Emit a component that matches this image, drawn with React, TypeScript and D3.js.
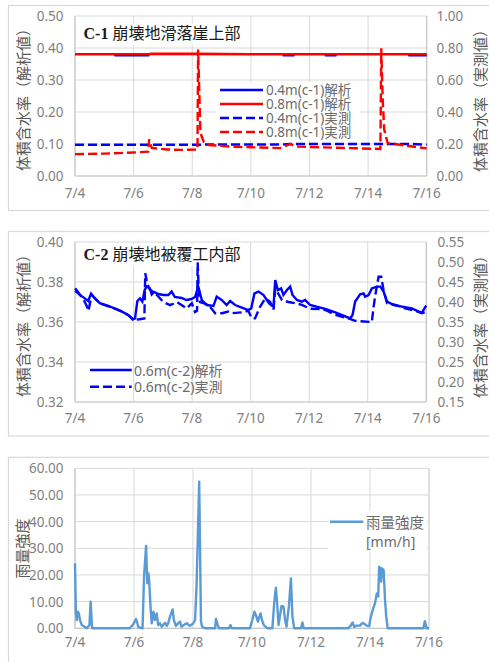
import React from "react";
import * as d3 from "d3";

// ---------- data ----------
const xTickDays = [4, 6, 8, 10, 12, 14, 16];
const xTickLabels = ["7/4", "7/6", "7/8", "7/10", "7/12", "7/14", "7/16"];

const c1LeftTicks = [0, 0.1, 0.2, 0.3, 0.4, 0.5];
const c1RightTicks = [0, 0.2, 0.4, 0.6, 0.8, 1.0];
const c2LeftTicks = [0.32, 0.34, 0.36, 0.38, 0.4];
const c2RightTicks = [0.15, 0.2, 0.25, 0.3, 0.35, 0.4, 0.45, 0.5, 0.55];
const rainTicks = [0, 10, 20, 30, 40, 50, 60];

const c1Legend = ["0.4m(c-1)解析", "0.8m(c-1)解析", "0.4m(c-1)実測", "0.8m(c-1)実測"];
const c2Legend = ["0.6m(c-2)解析", "0.6m(c-2)実測"];

// C-1 analysis (left axis)
const c1Ana04: [number, number][] = [
  [4, 0.381], [5.37, 0.381], [5.38, 0.377], [6.5, 0.377], [6.51, 0.381], [11.1, 0.381],
  [11.12, 0.377], [11.46, 0.377], [11.48, 0.381], [12.55, 0.381], [12.56, 0.377],
  [12.89, 0.377], [12.9, 0.381], [15.4, 0.381], [15.41, 0.377], [16, 0.377],
];
const c1Ana08: [number, number][] = [
  [4, 0.381], [6.5, 0.381], [6.6, 0.382], [8.2, 0.382], [10, 0.381], [16, 0.381],
];
// C-1 observed (right axis)
const c1Obs04: [number, number][] = [
  [4, 0.195], [6, 0.195], [8.2, 0.195], [8.5, 0.197], [11, 0.197], [11.35, 0.2],
  [14, 0.2], [15.5, 0.2], [16, 0.196],
];
const c1Obs08: [number, number][] = [
  [4.0, 0.137], [5.0, 0.14], [6.0, 0.147], [6.5, 0.152], [6.53, 0.229], [6.62, 0.175],
  [7.13, 0.166], [7.6, 0.163], [8.18, 0.165], [8.2, 0.79], [8.25, 0.47], [8.28, 0.27],
  [8.39, 0.214], [8.56, 0.194], [9.4, 0.183], [10.0, 0.18], [11.0, 0.174], [11.35, 0.2],
  [11.53, 0.184], [12.5, 0.179], [13.6, 0.173], [14.42, 0.169], [14.45, 0.798],
  [14.5, 0.475], [14.55, 0.29], [14.67, 0.205], [14.9, 0.2], [15.57, 0.183], [16.0, 0.173],
];

// C-2 analysis (left axis)
const c2Ana06: [number, number][] = [
  [4.0, 0.3768], [4.08, 0.3755], [4.17, 0.3735], [4.3, 0.3722], [4.45, 0.3705], [4.55, 0.3742],
  [4.68, 0.3718], [4.85, 0.3694], [5.2, 0.3677], [5.54, 0.3657], [5.82, 0.3635], [5.97, 0.3612],
  [6.05, 0.3618], [6.13, 0.3705], [6.22, 0.3718], [6.3, 0.3702], [6.38, 0.376], [6.45, 0.3778],
  [6.55, 0.377], [6.62, 0.3738], [6.7, 0.375], [6.85, 0.374], [7.02, 0.3735], [7.19, 0.3735],
  [7.3, 0.3752], [7.41, 0.3725], [7.64, 0.372], [7.81, 0.371], [7.98, 0.3715], [8.1, 0.3725],
  [8.21, 0.3777], [8.33, 0.371], [8.5, 0.3685], [8.73, 0.368], [8.84, 0.3727], [9.01, 0.371],
  [9.18, 0.3685], [9.3, 0.3705], [9.47, 0.3685], [9.7, 0.3672], [9.92, 0.366], [10.02, 0.3668],
  [10.13, 0.3743], [10.27, 0.3752], [10.44, 0.3735], [10.63, 0.3693], [10.78, 0.3677],
  [10.84, 0.381], [10.93, 0.376], [11.04, 0.3768], [11.12, 0.3735], [11.24, 0.376],
  [11.35, 0.3777], [11.43, 0.3735], [11.58, 0.371], [11.75, 0.3702], [11.86, 0.371],
  [12.03, 0.3685], [12.38, 0.3672], [12.55, 0.3666], [12.89, 0.3648], [13.17, 0.3632],
  [13.4, 0.3618], [13.48, 0.3635], [13.57, 0.3702], [13.74, 0.3738], [13.86, 0.3743],
  [13.91, 0.3727], [14.03, 0.3735], [14.14, 0.3768], [14.31, 0.3777], [14.43, 0.3777],
  [14.54, 0.3752], [14.66, 0.3702], [14.89, 0.3685], [15.17, 0.3677], [15.51, 0.3668],
  [15.74, 0.3652], [15.86, 0.3648], [15.97, 0.3677], [16.0, 0.3682],
];
// C-2 observed (right axis)
const c2Obs06: [number, number][] = [
  [4.0, 0.428], [4.17, 0.418], [4.3, 0.405], [4.4, 0.39], [4.46, 0.378], [4.52, 0.4],
  [4.6, 0.415], [4.7, 0.408], [4.85, 0.397], [5.2, 0.388], [5.54, 0.378], [5.82, 0.367],
  [5.97, 0.358], [6.05, 0.356], [6.2, 0.357], [6.37, 0.359], [6.4, 0.472], [6.47, 0.445],
  [6.55, 0.432], [6.79, 0.418], [7.02, 0.4], [7.25, 0.392], [7.48, 0.4], [7.82, 0.384],
  [7.99, 0.397], [8.1, 0.375], [8.17, 0.378], [8.19, 0.499], [8.22, 0.443], [8.27, 0.4],
  [8.56, 0.393], [8.79, 0.372], [9.02, 0.372], [9.24, 0.376], [9.36, 0.372], [9.7, 0.374],
  [9.92, 0.378], [10.04, 0.359], [10.15, 0.359], [10.32, 0.388], [10.5, 0.409], [10.67, 0.4],
  [10.78, 0.38], [10.84, 0.434], [11.07, 0.405], [11.29, 0.4], [11.52, 0.397], [11.75, 0.393],
  [12.03, 0.383], [12.38, 0.382], [12.55, 0.38], [12.89, 0.368], [13.34, 0.359], [13.57, 0.353],
  [14.14, 0.35], [14.2, 0.388], [14.26, 0.418], [14.37, 0.463], [14.46, 0.463], [14.54, 0.43],
  [14.66, 0.397], [14.94, 0.393], [15.28, 0.384], [15.62, 0.378], [15.85, 0.372], [16.0, 0.375],
];

// Rainfall intensity [mm/h]
const rain: [number, number][] = [
  [4.0, 24.4], [4.03, 5.6], [4.06, 3.1], [4.1, 6.2], [4.13, 5.6], [4.17, 3.1], [4.23, 1.2],
  [4.4, 0], [4.49, 1.2], [4.53, 10.0], [4.58, 0], [5.86, 0], [5.98, 1.6], [6.07, 3.5],
  [6.15, 0.4], [6.29, 0], [6.34, 19.4], [6.41, 30.9], [6.45, 16.9], [6.49, 20.6], [6.52, 16.9],
  [6.56, 8.1], [6.6, 1.9], [6.66, 6.2], [6.71, 3.1], [6.77, 5.6], [6.82, 1.2], [6.88, 1.9],
  [6.94, 0.6], [7.05, 2.1], [7.11, 0.9], [7.16, 1.9], [7.22, 4.4], [7.31, 7.1], [7.35, 3.1],
  [7.42, 0.9], [7.5, 1.9], [7.56, 2.5], [7.61, 0.6], [7.69, 1.2], [7.79, 1.9], [7.9, 0.9],
  [8.01, 1.9], [8.07, 3.1], [8.12, 15.6], [8.21, 55.0], [8.27, 2.5], [8.31, 0.6], [8.41, 0],
  [8.75, 0], [8.78, 3.5], [8.84, 1.2], [8.88, 0], [9.22, 0], [9.27, 1.2], [9.31, 0],
  [9.93, 0], [10.01, 3.1], [10.08, 6.2], [10.15, 4.4], [10.2, 2.5], [10.29, 5.6], [10.34, 3.1],
  [10.4, 1.2], [10.53, 0], [10.69, 0], [10.76, 10.6], [10.81, 15.2], [10.86, 8.1], [10.9, 1.2],
  [11.0, 8.4], [11.07, 8.1], [11.12, 3.1], [11.17, 0.6], [11.25, 8.1], [11.32, 18.7],
  [11.37, 4.4], [11.43, 0], [11.66, 0], [11.71, 2.2], [11.75, 0], [13.26, 0], [13.35, 1.0],
  [13.41, 2.2], [13.47, 0.5], [13.53, 1.0], [13.66, 1.0], [13.74, 2.0], [13.81, 1.7],
  [13.9, 0.9], [13.97, 0.8], [14.03, 4.4], [14.11, 7.5], [14.17, 9.4], [14.23, 13.1],
  [14.28, 11.9], [14.31, 23.1], [14.36, 22.5], [14.38, 17.5], [14.4, 22.5], [14.46, 21.9],
  [14.48, 17.5], [14.51, 10.6], [14.55, 4.4], [14.6, 0], [15.81, 0], [15.86, 2.7],
  [15.92, 0], [16.0, 0],
];

// ---------- style ----------
const LATIN = "'Noto Sans', 'Noto Sans CJK JP', sans-serif";
const CJK = "'Noto Sans CJK JP', 'Noto Sans', sans-serif";
const GRID = "#d9d9d9";
const AXIS = "#c8c8c8";
const TICK_COLOR = "#7f7f7f";
const TITLE_COLOR = "#595959";
const BLUE = "#0000ff";
const RED = "#ff0000";
const RAIN = "#5b9bd5";
const DASH = "9 4";
const LW = 2.4;

type Pt = [number, number];

function makeLine(x: d3.ScaleLinear<number, number>, y: d3.ScaleLinear<number, number>) {
  return d3
    .line<Pt>()
    .x((d) => x(d[0]))
    .y((d) => y(d[1]))
    .curve(d3.curveLinear);
}

function Grid({ x, y, yTicks }: { x: d3.ScaleLinear<number, number>; y: d3.ScaleLinear<number, number>; yTicks: number[] }) {
  const [x0, x1] = x.range();
  const [y0, y1] = y.range();
  return (
    <g>
      {yTicks.map((t, i) => (
        <line key={"h" + i} x1={x0} x2={x1} y1={y(t)} y2={y(t)} stroke={GRID} strokeWidth={1} />
      ))}
      {xTickDays.map((t, i) => (
        <line key={"v" + i} x1={x(t)} x2={x(t)} y1={y0} y2={y1} stroke={GRID} strokeWidth={1} />
      ))}
      <line x1={x0} x2={x0} y1={y0} y2={y1} stroke={AXIS} strokeWidth={1.2} />
      <line x1={x0} x2={x1} y1={y0} y2={y0} stroke={AXIS} strokeWidth={1.2} />
    </g>
  );
}

function XLabels({ x, yBase }: { x: d3.ScaleLinear<number, number>; yBase: number }) {
  return (
    <g>
      {xTickDays.map((t, i) => (
        <text key={i} x={x(t)} y={yBase} textAnchor="middle" fontFamily={LATIN} fontSize={13.5} fill={TICK_COLOR}>
          {xTickLabels[i]}
        </text>
      ))}
    </g>
  );
}

function YLabels({ y, ticks, xPos, anchor }: { y: d3.ScaleLinear<number, number>; ticks: number[]; xPos: number; anchor: string }) {
  return (
    <g>
      {ticks.map((t, i) => (
        <text key={i} x={xPos} y={y(t)} textAnchor={anchor} dominantBaseline="central" fontFamily={LATIN} fontSize={13.5} fill={TICK_COLOR}>
          {t.toFixed(2)}
        </text>
      ))}
    </g>
  );
}

function VTitle({ cx, cy, text }: { cx: number; cy: number; text: string }) {
  return (
    <text transform={`translate(${cx},${cy}) rotate(-90)`} textAnchor="middle" dominantBaseline="central" fontFamily={CJK} fontSize={15} fill={TITLE_COLOR}>
      {text}
    </text>
  );
}

function ChartTitle({ x, y, code, name }: { x: number; y: number; code: string; name: string }) {
  return (
    <g>
      <rect x={x - 3} y={y - 15} width={162} height={21} fill="#fff" />
      <text x={x} y={y} fontSize={16} fill="#1a1a1a">
        <tspan fontFamily="'Liberation Serif', serif" fontWeight="bold">{code}</tspan>
        <tspan fontFamily={CJK} dx={4}>{name}</tspan>
      </text>
    </g>
  );
}

export default function App() {
  // ---- panel 1 ----
  const x1 = d3.scaleLinear().domain([4, 16]).range([75, 426.7]);
  const y1L = d3.scaleLinear().domain([0, 0.5]).range([176, 16]);
  const y1R = d3.scaleLinear().domain([0, 1]).range([176, 16]);
  // ---- panel 2 ----
  const x2 = d3.scaleLinear().domain([4, 16]).range([75, 426.3]);
  const y2L = d3.scaleLinear().domain([0.32, 0.4]).range([402, 242]);
  const y2R = d3.scaleLinear().domain([0.15, 0.55]).range([402, 242]);
  // ---- panel 3 ----
  const x3 = d3.scaleLinear().domain([4, 16]).range([75, 429]);
  const y3 = d3.scaleLinear().domain([0, 60]).range([628.3, 468.3]);

  const l1L = makeLine(x1, y1L);
  const l1R = makeLine(x1, y1R);
  const l2L = makeLine(x2, y2L);
  const l2R = makeLine(x2, y2R);
  const l3 = makeLine(x3, y3);

  const legend1 = [
    { label: c1Legend[0], color: BLUE, dash: undefined as string | undefined },
    { label: c1Legend[1], color: RED, dash: undefined },
    { label: c1Legend[2], color: BLUE, dash: DASH },
    { label: c1Legend[3], color: RED, dash: DASH },
  ];

  return (
    <svg width={489} height={662} style={{ position: "absolute", left: 0, top: 0, background: "#fff" }} xmlns="http://www.w3.org/2000/svg">
      <rect x={0} y={0} width={489} height={662} fill="#fff" />
      {/* panel frames */}
      <rect x={8.5} y={5.5} width={500} height={205} fill="none" stroke={GRID} strokeWidth={1.2} />
      <rect x={8.5} y={231.5} width={500} height={204.5} fill="none" stroke={GRID} strokeWidth={1.2} />
      <rect x={8.5} y={457.3} width={500} height={230} fill="none" stroke={GRID} strokeWidth={1.2} />

      {/* ===== Panel 1 ===== */}
      <Grid x={x1} y={y1L} yTicks={c1LeftTicks} />
      <line x1={426.7} x2={426.7} y1={16} y2={176} stroke={AXIS} strokeWidth={1.2} />
      <YLabels y={y1L} ticks={c1LeftTicks} xPos={63.5} anchor="end" />
      <YLabels y={y1R} ticks={c1RightTicks} xPos={436.5} anchor="start" />
      <XLabels x={x1} yBase={198} />
      <VTitle cx={22.5} cy={96} text="体積含水率（解析値）" />
      <VTitle cx={479} cy={97} text="体積含水率（実測値）" />
      <ChartTitle x={83.5} y={38.5} code="C-1" name="崩壊地滑落崖上部" />
      <path d={l1L(c1Ana04) || ""} fill="none" stroke={BLUE} strokeWidth={LW} />
      <path d={l1L(c1Ana08) || ""} fill="none" stroke={RED} strokeWidth={LW} />
      <path d={l1R(c1Obs04) || ""} fill="none" stroke={BLUE} strokeWidth={LW} strokeDasharray={DASH} />
      <path d={l1R(c1Obs08) || ""} fill="none" stroke={RED} strokeWidth={LW} strokeDasharray={DASH} />
      <rect x={216} y={82} width={144} height={58} fill="#fff" />
      {legend1.map((it, i) => (
        <g key={i}>
          <line x1={220} x2={263} y1={90 + i * 14} y2={90 + i * 14} stroke={it.color} strokeWidth={LW} strokeDasharray={it.dash} />
          <text x={266} y={90 + i * 14} dominantBaseline="central" fontFamily={LATIN} fontSize={13.5} fill="#6b6b6b">
            {it.label}
          </text>
        </g>
      ))}

      {/* ===== Panel 2 ===== */}
      <Grid x={x2} y={y2L} yTicks={c2LeftTicks} />
      <line x1={426.3} x2={426.3} y1={242} y2={402} stroke={AXIS} strokeWidth={1.2} />
      <YLabels y={y2L} ticks={c2LeftTicks} xPos={63.5} anchor="end" />
      <YLabels y={y2R} ticks={c2RightTicks} xPos={437.5} anchor="start" />
      <XLabels x={x2} yBase={423} />
      <VTitle cx={22.5} cy={322} text="体積含水率（解析値）" />
      <VTitle cx={479} cy={323} text="体積含水率（実測値）" />
      <ChartTitle x={83.5} y={259.5} code="C-2" name="崩壊地被覆工内部" />
      <path d={l2L(c2Ana06) || ""} fill="none" stroke={BLUE} strokeWidth={LW} />
      <path d={l2R(c2Obs06) || ""} fill="none" stroke={BLUE} strokeWidth={LW} strokeDasharray={DASH} />
      {c2Legend.map((lab, i) => (
        <g key={i}>
          <line x1={90} x2={131.7} y1={370 + i * 16.7} y2={370 + i * 16.7} stroke={BLUE} strokeWidth={LW} strokeDasharray={i === 1 ? DASH : undefined} />
          <text x={134} y={370 + i * 16.7} dominantBaseline="central" fontFamily={LATIN} fontSize={14} fill="#6b6b6b">
            {lab}
          </text>
        </g>
      ))}

      {/* ===== Panel 3 ===== */}
      <Grid x={x3} y={y3} yTicks={rainTicks} />
      <line x1={429} x2={429} y1={468.3} y2={628.3} stroke={GRID} strokeWidth={1.2} />
      <YLabels y={y3} ticks={rainTicks} xPos={63.5} anchor="end" />
      <XLabels x={x3} yBase={647} />
      <VTitle cx={21.5} cy={548.5} text="雨量強度" />
      <path d={l3(rain) || ""} fill="none" stroke={RAIN} strokeWidth={LW} strokeLinejoin="round" />
      <rect x={328} y={511} width={99} height={40} fill="#fff" />
      <line x1={330} x2={363.3} y1={521.7} y2={521.7} stroke={RAIN} strokeWidth={LW} />
      <text x={366} y={521.7} dominantBaseline="central" fontFamily={CJK} fontSize={14.5} fill="#6b6b6b">
        雨量強度
      </text>
      <text x={366} y={541.7} dominantBaseline="central" fontFamily={LATIN} fontSize={14} fill="#6b6b6b">
        [mm/h]
      </text>
    </svg>
  );
}
